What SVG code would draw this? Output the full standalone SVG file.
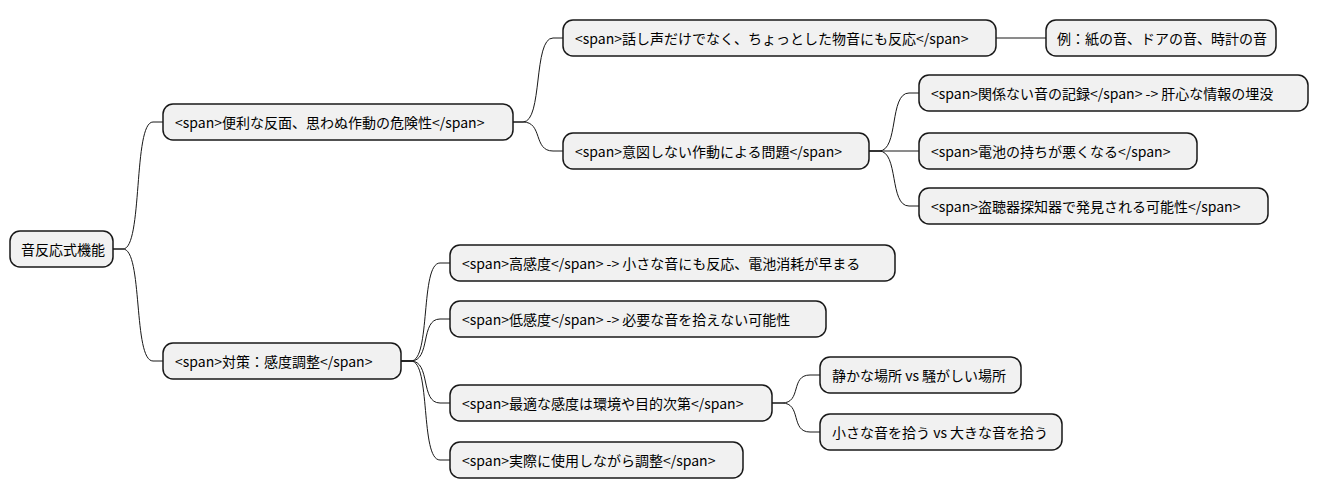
<svg xmlns="http://www.w3.org/2000/svg" width="1319" height="499" viewBox="0 0 1319 499">
<style>
rect{fill:#F1F1F1;stroke:#181818;stroke-width:1.5}
text{font-family:"Noto Sans CJK JP","Noto Sans",sans-serif;font-size:14px;fill:#000;dominant-baseline:central}
#c path{fill:none;stroke:#181818;stroke-width:1}
</style>
<rect width="1319" height="499" style="fill:#fff;stroke:none"/>
<g id="c">
<path d="M113,249 L123,249 C143,249 133,122 153,122 L163,122"/>
<path d="M113,249 L123,249 C143,249 133,361 153,361 L163,361"/>
<path d="M513,122 L523,122 C543,122 533,38 553,38 L563,38"/>
<path d="M513,122 L523,122 C543,122 533,151 553,151 L563,151"/>
<path d="M996,38 L1046,38"/>
<path d="M869,151 L879,151 C899,151 889,93 909,93 L919,93"/>
<path d="M869,151 L919,151"/>
<path d="M869,151 L879,151 C899,151 889,206 909,206 L919,206"/>
<path d="M401,361 L411,361 C431,361 420,263 440,263 L450,263"/>
<path d="M401,361 L411,361 C431,361 420,319 440,319 L450,319"/>
<path d="M401,361 L411,361 C431,361 420,403 440,403 L450,403"/>
<path d="M401,361 L411,361 C431,361 420,460 440,460 L450,460"/>
<path d="M772,403 L782,403 C802,403 790,375 810,375 L820,375"/>
<path d="M772,403 L782,403 C802,403 790,432 810,432 L820,432"/>
</g>
<g id="root"><rect x="10" y="231" width="103" height="36" rx="10"/><text x="21" y="249">音反応式機能</text></g>
<g id="a"><rect x="163" y="104" width="350" height="36" rx="10"/><text x="175" y="122">&lt;span&gt;便利な反面、思わぬ作動の危険性&lt;/span&gt;</text></g>
<g id="a1"><rect x="563" y="20" width="433" height="36" rx="10"/><text x="575" y="38">&lt;span&gt;話し声だけでなく、ちょっとした物音にも反応&lt;/span&gt;</text></g>
<g id="a1a"><rect x="1046" y="20" width="230" height="36" rx="10"/><text x="1057" y="38">例：紙の音、ドアの音、時計の音</text></g>
<g id="a2"><rect x="563" y="133" width="306" height="36" rx="10"/><text x="575" y="151">&lt;span&gt;意図しない作動による問題&lt;/span&gt;</text></g>
<g id="a2a"><rect x="919" y="75" width="389" height="36" rx="10"/><text x="931" y="93">&lt;span&gt;関係ない音の記録&lt;/span&gt; -&gt; 肝心な情報の埋没</text></g>
<g id="a2b"><rect x="919" y="133" width="278" height="36" rx="10"/><text x="931" y="151">&lt;span&gt;電池の持ちが悪くなる&lt;/span&gt;</text></g>
<g id="a2c"><rect x="919" y="188" width="349" height="36" rx="10"/><text x="931" y="206">&lt;span&gt;盗聴器探知器で発見される可能性&lt;/span&gt;</text></g>
<g id="b"><rect x="163" y="343" width="238" height="36" rx="10"/><text x="175" y="361">&lt;span&gt;対策：感度調整&lt;/span&gt;</text></g>
<g id="b1"><rect x="450" y="245" width="445" height="36" rx="10"/><text x="462" y="263">&lt;span&gt;高感度&lt;/span&gt; -&gt; 小さな音にも反応、電池消耗が早まる</text></g>
<g id="b2"><rect x="450" y="301" width="376" height="36" rx="10"/><text x="462" y="319">&lt;span&gt;低感度&lt;/span&gt; -&gt; 必要な音を拾えない可能性</text></g>
<g id="b3"><rect x="450" y="385" width="322" height="36" rx="10"/><text x="462" y="403">&lt;span&gt;最適な感度は環境や目的次第&lt;/span&gt;</text></g>
<g id="b3a"><rect x="820" y="357" width="201" height="36" rx="10"/><text x="832" y="375">静かな場所 vs 騒がしい場所</text></g>
<g id="b3b"><rect x="820" y="414" width="242" height="36" rx="10"/><text x="832" y="432">小さな音を拾う vs 大きな音を拾う</text></g>
<g id="b4"><rect x="450" y="442" width="293" height="36" rx="10"/><text x="462" y="460">&lt;span&gt;実際に使用しながら調整&lt;/span&gt;</text></g>
</svg>
